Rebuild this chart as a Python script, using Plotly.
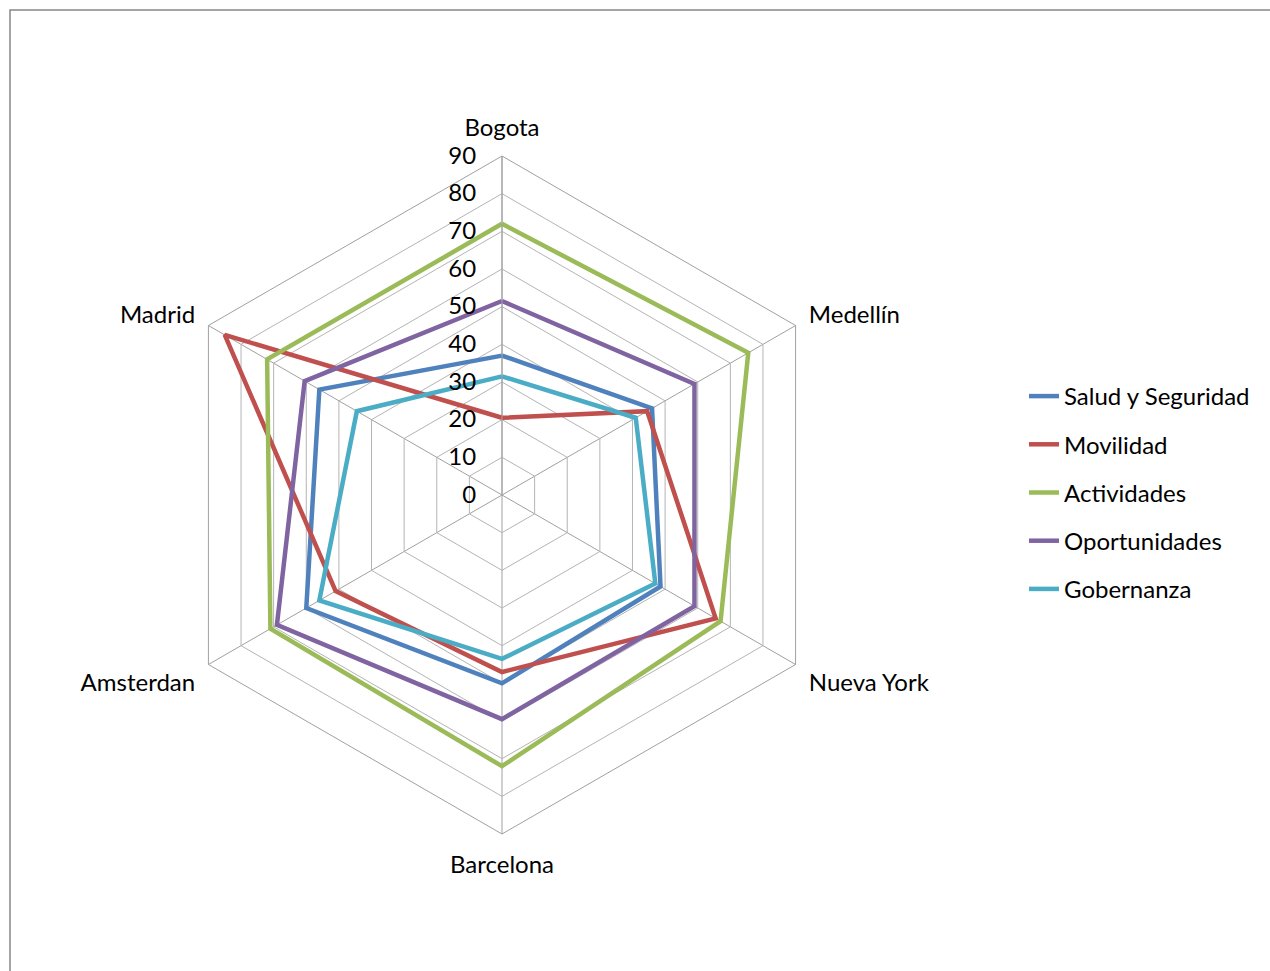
import plotly.graph_objects as go

categories = ["Bogota", "Medellín", "Nueva York", "Barcelona", "Amsterdan", "Madrid"]
series_names = ["Salud y Seguridad", "Movilidad", "Actividades", "Oportunidades", "Gobernanza"]
salud = [37, 46, 48.6, 50, 60, 56]
movilidad = [20.5, 44.5, 65.5, 47, 51, 85]
actividades = [72, 75.5, 67, 72, 71, 72]
oportunidades = [51.5, 59, 59, 59.5, 69, 60.5]
gobernanza = [31.5, 41, 47, 43.5, 56, 44.5]
radial_ticks = [0, 10, 20, 30, 40, 50, 60, 70, 80, 90]

colors = ["#4F81BD", "#C0504D", "#9BBB59", "#8064A2", "#4BACC6"]
data = [salud, movilidad, actividades, oportunidades, gobernanza]

FONT = "Lato"
FS = 24
W, H = 1270, 971
cx, cy, R = 502, 495, 339

fig = go.Figure()
for name, vals, col in zip(series_names, data, colors):
    fig.add_trace(go.Scatterpolar(
        r=vals + vals[:1], theta=categories + categories[:1],
        mode="lines", name=name, line=dict(color=col, width=4.5),
        legendgroup=name,
    ))

fig.update_layout(
    width=W, height=H,
    margin=dict(l=0, r=0, t=0, b=0),
    paper_bgcolor="white",
    plot_bgcolor="white",
    font=dict(family=FONT, size=FS, color="#000000"),
    polar=dict(
        domain=dict(x=[(cx - R) / W, (cx + R) / W], y=[1 - (cy + R) / H, 1 - (cy - R) / H]),
        gridshape="linear",
        bgcolor="white",
        radialaxis=dict(
            range=[0, 90], tickvals=radial_ticks, angle=90, tickangle=90,
            side="counterclockwise",
            showline=True, linecolor="#A0A0A0", linewidth=1,
            gridcolor="#B4B4B4", gridwidth=1,
            ticks="outside", ticklen=17, tickcolor="rgba(0,0,0,0)",
            tickfont=dict(family=FONT, size=FS, color="#000000"),
        ),
        angularaxis=dict(
            direction="clockwise", rotation=90,
            showline=True, linecolor="#A0A0A0", linewidth=1,
            gridcolor="#A0A0A0", gridwidth=1,
            ticks="outside", ticklen=10, tickcolor="rgba(0,0,0,0)",
            tickfont=dict(family=FONT, size=FS, color="#000000"),
        ),
    ),
    legend=dict(
        x=1024 / W, y=1 - 374 / H, xanchor="left", yanchor="top",
        traceorder="grouped", tracegroupgap=14,
        font=dict(family=FONT, size=FS, color="#000000"),
        bgcolor="rgba(0,0,0,0)",
    ),
    shapes=[dict(type="rect", xref="paper", yref="paper",
                 x0=10 / W, x1=1.05, y0=-0.05, y1=1 - 10 / H,
                 line=dict(color="#868686", width=1.5), fillcolor="rgba(0,0,0,0)")],
)

fig.write_html("out.html")
